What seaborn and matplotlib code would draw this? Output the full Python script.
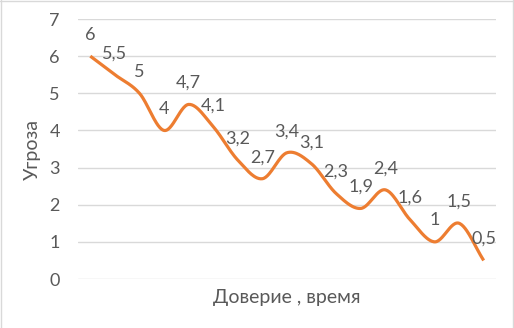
import numpy as np
import pandas as pd
import matplotlib
matplotlib.use("Agg")
import matplotlib.pyplot as plt
import seaborn as sns
from matplotlib.lines import Line2D

values = [6, 5.5, 5, 4, 4.7, 4.1, 3.2, 2.7, 3.4, 3.1, 2.3, 1.9, 2.4, 1.6, 1, 1.5, 0.5]
labels = ["6", "5,5", "5", "4", "4,7", "4,1", "3,2", "2,7", "3,4", "3,1", "2,3", "1,9", "2,4", "1,6", "1", "1,5", "0,5"]
y_ticks = [0, 1, 2, 3, 4, 5, 6, 7]
x_title = "Доверие , время"
y_title = "Угроза"

sns.set_theme(style="white")
plt.rcParams['font.family'] = ['Lato', 'DejaVu Sans']

text_color = "#595959"
line_color = "#ED7D31"
grid_color = "#D9D9D9"

fig = plt.figure(figsize=(5.14, 3.28), dpi=100)
ax = fig.add_axes([78/514, 1-279/328, (496-78)/514, (279-19)/328])

# Smoothed curve (Catmull-Rom, like Excel's smoothed line) for display
x = np.arange(len(values), dtype=float)
y = np.asarray(values, dtype=float)
px = np.concatenate([[2*x[0]-x[1]], x, [2*x[-1]-x[-2]]])
py = np.concatenate([[y[0]], y, [y[-1]]])
sx, sy = [], []
t = np.linspace(0, 1, 30)
for i in range(1, len(px)-2):
    p0x, p1x, p2x, p3x = px[i-1], px[i], px[i+1], px[i+2]
    p0y, p1y, p2y, p3y = py[i-1], py[i], py[i+1], py[i+2]
    if i == 1:
        p0x, p0y = p1x - (p2x - p1x), p1y - (p2y - p1y)
    if i == len(px)-3:
        p3x, p3y = p2x + (p2x - p1x), p2y + (p2y - p1y)
    c1x, c1y = p1x + (p2x - p0x)/6, p1y + (p2y - p0y)/6
    c2x, c2y = p2x - (p3x - p1x)/6, p2y - (p3y - p1y)/6
    bx = (1-t)**3*p1x + 3*(1-t)**2*t*c1x + 3*(1-t)*t**2*c2x + t**3*p2x
    by = (1-t)**3*p1y + 3*(1-t)**2*t*c1y + 3*(1-t)*t**2*c2y + t**3*p2y
    sx.extend(bx); sy.extend(by)
curve = pd.DataFrame({"x": sx, "y": sy})

for yt in y_ticks:
    ax.axhline(yt, color=grid_color, lw=1, zorder=0)

sns.lineplot(data=curve, x="x", y="y", sort=False, color=line_color, lw=2.3,
             ax=ax, estimator=None, solid_capstyle="butt")

for xi, yi, lab in zip(x, y, labels):
    ax.annotate(lab, (xi, yi), xytext=(0, 15.5), textcoords="offset points",
                ha="center", va="center", fontsize=13, color=text_color)

ax.set_xlim(-0.5, len(values)-0.5)
ax.set_ylim(0, 7)
ax.set_yticks(y_ticks)
ax.set_xticks([])
ax.tick_params(axis="y", length=0, pad=13, labelsize=13, labelcolor=text_color)
for s in ax.spines.values():
    s.set_visible(False)
ax.set_xlabel(x_title, fontsize=14, color=text_color, labelpad=7)
ax.set_ylabel(y_title, fontsize=14, color=text_color, labelpad=6)

# outer chart border
for coords in [([0.5/514, 0.5/514], [0, 1]), ([0, 1], [1-0.5/328, 1-0.5/328]),
               ([1-1.5/514, 1-1.5/514], [0, 1])]:
    fig.add_artist(Line2D(coords[0], coords[1], color=grid_color, lw=1, transform=fig.transFigure))

fig.savefig("out.png", dpi=100)
